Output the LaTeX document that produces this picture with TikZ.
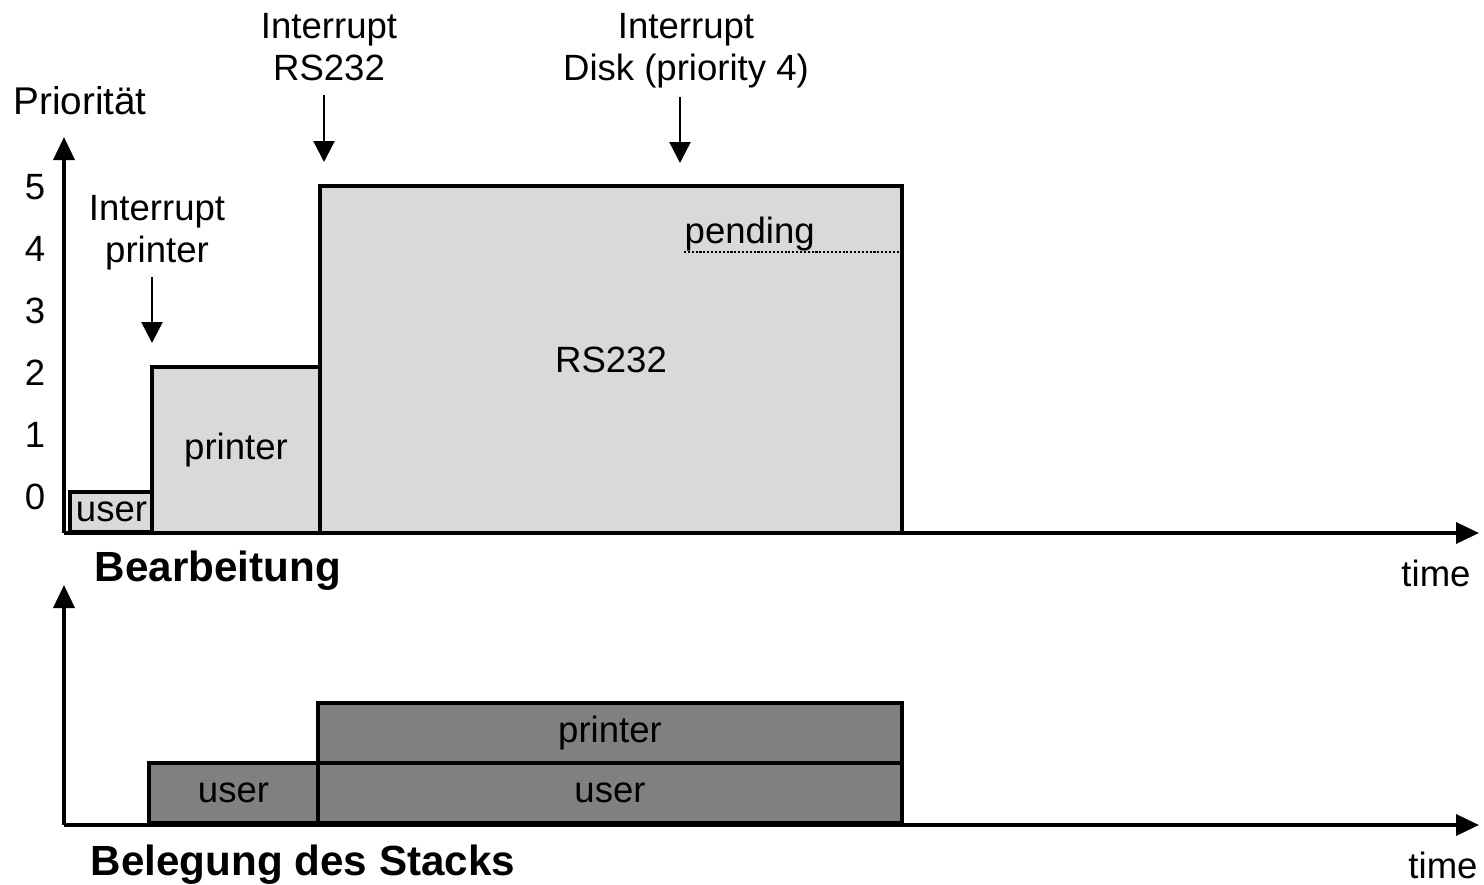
\documentclass[tikz,border=0pt]{standalone}
\usepackage{fontspec}
\setmainfont{Liberation Sans}
\usetikzlibrary{arrows.meta}
\definecolor{boxlight}{RGB}{217,217,217}
\definecolor{boxdark}{RGB}{128,128,128}

\begin{document}
\begin{tikzpicture}[x=0.1mm, y=-0.1mm,
  every node/.style={font=\fontsize{10.4}{11.9}\selectfont},
  lbl/.style={align=center, inner sep=0pt},
  ttl/.style={inner sep=0pt, font=\fontsize{12}{14}\selectfont\bfseries},
  lightbox/.style={rectangle, draw=black, fill=boxlight, line width=1.05pt,
                   anchor=south west, inner sep=0pt, outer sep=0pt},
  darkbox/.style={lightbox, fill=boxdark},
  axis/.style={line width=1.05pt, -{Triangle[length=2.3mm,width=2.1mm]}},
  irq/.style={line width=0.7pt, -{Triangle[length=2.1mm,width=2.1mm]}},
  pendline/.style={line width=0.7pt, dash pattern=on 0.6pt off 0.5pt}
]
  \useasboundingbox (0,0) rectangle (1484,885);

  % upper diagram: processing
  \node[lightbox, minimum width=0.83cm, minimum height=0.40cm] (usr) at (70,532) {\raisebox{-0.5ex}{user}};
  \node[lightbox, minimum width=1.68cm, minimum height=1.66cm] (prn) at (152,533) {printer};
  \node[lightbox, minimum width=5.82cm, minimum height=3.47cm] (rs) at (320,533) {RS232};
  \node[lbl, anchor=south west] (pend) at (684,252) {pending};
  \draw[pendline] (pend.south west) -- (pend.south west -| rs.east);

  \coordinate (o1) at (64,533);
  \coordinate (y1) at (64,137);
  \coordinate (t1) at (1479,533);
  \draw[axis] (o1) -- (y1);
  \draw[axis] (o1) -- (t1);

  \foreach \v in {0,...,5}
    \node[lbl] (tick\v) at (35,{497-62*\v}) {\v};

  \node[lbl, font=\fontsize{11}{13}\selectfont] (prio) at (80,101) {Priorität};
  \node[ttl] (bearb) at (218,571) {Bearbeitung};
  \node[lbl] (time1) at (1436,573) {time};

  % interrupts
  \node[lbl, anchor=north] (intp) at (157,195) {Interrupt\\printer};
  \node[lbl, anchor=north] (intrs) at (329,13) {Interrupt\\RS232};
  \node[lbl, anchor=north] (intdk) at (686,13) {Interrupt\\Disk (priority 4)};
  \coordinate (pa) at (152,277);
  \coordinate (pb) at (152,343);
  \coordinate (ra) at (324,95);
  \coordinate (rb) at (324,162);
  \coordinate (da) at (680,97);
  \coordinate (db) at (680,163);
  \draw[irq] (pa) -- (pb);
  \draw[irq] (ra) -- (rb);
  \draw[irq] (da) -- (db);

  % lower diagram: stack usage
  \node[darkbox, minimum width=1.69cm, minimum height=0.60cm] (susr) at (149,823) {user};
  \node[darkbox, minimum width=5.84cm, minimum height=0.60cm] (susr2) at (318,823) {user};
  \node[darkbox, minimum width=5.84cm, minimum height=0.60cm] (sprn) at (318,763) {printer};

  \coordinate (o2) at (64,825);
  \coordinate (y2) at (64,585);
  \coordinate (t2) at (1479,825);
  \draw[axis] (o2) -- (y2);
  \draw[axis] (o2) -- (t2);

  \node[ttl] (stack) at (303,865) {Belegung des Stacks};
  \node[lbl] (time2) at (1443,865) {time};
\end{tikzpicture}
\end{document}
